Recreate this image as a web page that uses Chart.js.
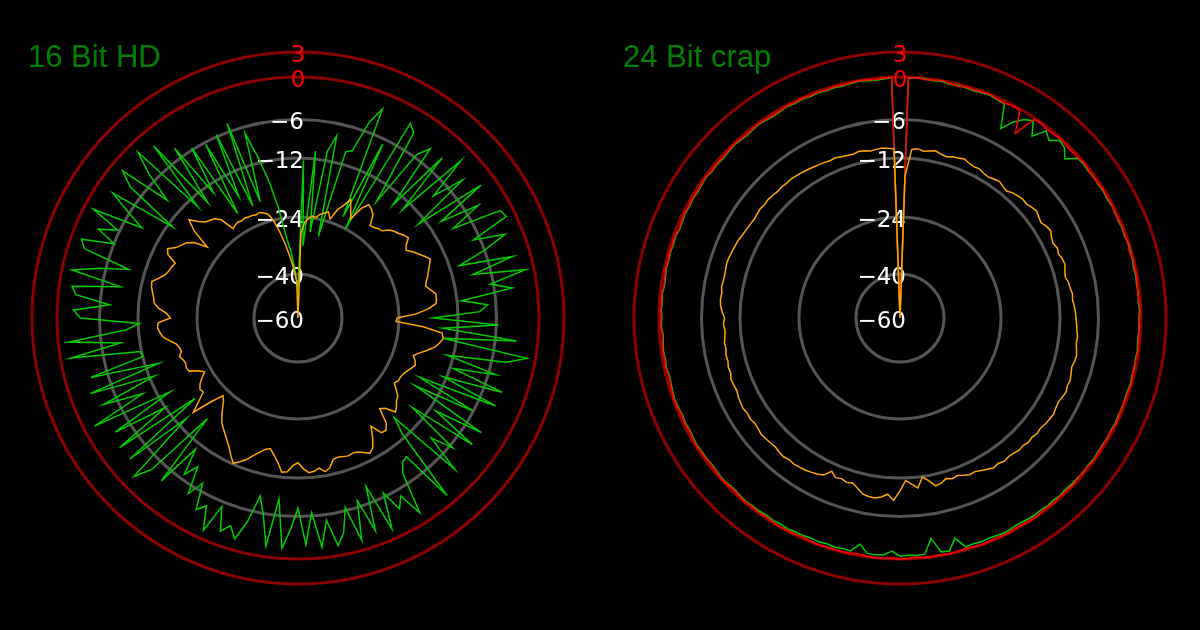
<!DOCTYPE html>
<html><head><meta charset="utf-8">
<script src="https://cdn.jsdelivr.net/npm/chart.js@4/dist/chart.umd.min.js"></script>
<style>
html,body{margin:0;padding:0;background:#000;width:1200px;height:630px;overflow:hidden}
canvas{position:absolute;top:0}
#c1{left:0}
#c2{left:600px}
</style></head><body>
<canvas id="c1" width="600" height="630"></canvas>
<canvas id="c2" width="600" height="630"></canvas>
<script>
// ---- Scale: ring levels (dB) and their labels ----
const tickLevelsDb = [-60, -40, -24, -12, -6, 0, 3];
const tickLabels = ['−60', '−40', '−24', '−12', '−6', '0', '3'];
// angle categories (degrees, clockwise from top)
const angleLabels = Array.from({length: 180}, (_, i) => (i * 2) + '°');

// ---- Series (dB) ----
const hd16Green = [
-47,-12.5,-32,-10.8,-28,-10.5,-7.9,-28.7,-10,-9.5,
-4.6,-2.2,-22,-6.8,-24,-2.3,-3.2,-16,-5.5,-3.7,
-14.5,-3.6,-13.9,-2.1,-8.5,-3.7,-13.5,-2.1,-10,-4,
-9,-1.7,-1.3,-7,-2.5,-6,-10.5,-2.5,-8.8,-1.2,
-6.5,-3.5,-11.3,-7.3,-8.6,-17,-5.7,-15,-3,-14.8,
-1.2,-4,-13.3,-5,-11.5,-3.4,-12.7,-3.5,-17,-6,
-17,-3.5,-11,-3.6,-15,-5.5,-9,-3.3,-16.3,-12.8,
-1.3,-9.5,-9.2,-7.7,-1.6,-5,-3.5,-6.6,-1.4,-8.6,
-2.1,-7,-1.4,-6.5,-3,-1.4,-5.2,-1.5,-6.5,-2,
-7.3,-4.2,-1.4,-8.6,-1.5,-5.8,-8.6,-4.3,-1.6,-3.2,
-2,-5.3,-1.2,-4.5,-3.4,-7.2,-4.8,-9,-6.8,-11,
-4,-17,-4.3,-1.8,-14,-3,-18,-2.9,-12,-3.6,
-14.5,-1.5,-10,-4,-13,-2.8,-14.7,-3.6,-12,-11.8,
-1.5,-9,-1.5,-10,-12.3,-3.3,-2.3,-7.5,-2.5,-1.8,
-8.8,-1.4,-5,-9.5,-2.3,-1.5,-6,-3.2,-5.7,-1.3,
-8.8,-5.7,-2.5,-13,-4,-1.7,-9.5,-4.8,-1.5,-14,
-2.3,-14.7,-4.4,-13.8,-5.7,-20,-6.3,-17,-5.7,-20,
-4.8,-19.7,-7,-11.1,-16,-22,-30,-33.5,-38.5,-43.5
];
const hd16Orange = [
-60,-28.4,-25.4,-24.3,-23.6,-23.8,-23,-22.6,-22.1,-23.4,
-21.1,-19.9,-18.2,-20.1,-21.7,-18.8,-17.4,-17.8,-18.6,-20.7,
-20.5,-20.1,-19.9,-18.8,-18.2,-17.8,-17.2,-16.8,-18,-18.6,
-17.6,-16.8,-15.9,-15.1,-15.7,-16.3,-16.8,-17.4,-17.8,-17,
-16.1,-16.1,-16.3,-18,-20.5,-24.5,-24.8,-19,-15.1,-14.7,
-15.3,-16.1,-17.4,-18.8,-19.9,-19.2,-18.8,-19.4,-19.9,-20.3,
-20.5,-20.5,-20.9,-19.9,-18.8,-18.4,-17.6,-17,-19,-19.7,
-16.6,-15.5,-15.7,-18,-15.9,-14.1,-13.4,-14.1,-14.7,-14.9,
-14.7,-14.9,-15.1,-14.9,-13.4,-12.8,-13.7,-13.2,-13,-13.9,
-15.1,-14.5,-13.2,-13,-14.9,-16.3,-17.4,-17,-16.1,-15.1,
-13.9,-13,-12.2,-13.4,-14.7,-15.7,-16.6,-17.4,-18.2,-19.4,
-20.7,-21.9,-22.6,-20.1,-15.9,-18.2,-20.1,-19.9,-20.5,-21.5,
-22.6,-21.7,-19.9,-19.7,-19.9,-19.7,-19.2,-19.9,-19.7,-19.2,
-18,-16.8,-16.3,-15.9,-16.1,-18.6,-17.8,-16.1,-15.1,-14.9,
-14.5,-14.1,-13.9,-15.1,-16.1,-16.6,-16.8,-17.2,-15.1,-14.5,
-15.9,-16.6,-17.2,-18.4,-21.1,-17,-14.7,-16.3,-17.4,-17.8,
-18.2,-19.2,-22.1,-21.7,-21.5,-21.7,-21.5,-21.7,-21.7,-21.9,
-21.7,-22.1,-22.6,-24.3,-27.6,-30.9,-34.2,-37,-39.7,-43.3
];
const crap24Orange = [
-60,-15.7,-10.6,-10.4,-10.7,-10.5,-10.3,-10.6,-10.8,-10.5,
-10.4,-10.2,-10.5,-10.7,-10.6,-10.9,-11,-10.8,-10.6,-10.9,
-11.1,-10.7,-10.5,-10.3,-10.4,-10.1,-9.9,-10.2,-10.4,-10,
-9.8,-10.2,-10.4,-10.1,-10.3,-10,-9.9,-10.2,-10.4,-10.1,
-10,-9.8,-9.9,-9.7,-9.6,-9.5,-9.4,-9.3,-9.1,-9.2,
-9,-8.8,-8.9,-9.1,-8.9,-8.7,-8.8,-8.6,-8.8,-9,
-8.9,-8.7,-8.8,-8.9,-9.1,-9,-9.2,-9.1,-9.3,-9.2,
-9.4,-9.5,-9.3,-9.6,-9.4,-9.7,-10,-10.3,-10.2,-10.5,
-10.8,-10.6,-10.9,-10.4,-10.2,-11.2,-11.9,-10.3,-11,-11.6,
-10,-8.5,-9.4,-8.9,-8.6,-8.7,-8.9,-9.6,-10.2,-10,
-10.3,-10.1,-10.8,-9.7,-9.4,-9.2,-9,-8.9,-8.8,-8.9,
-8.7,-8.8,-9,-8.9,-8.8,-8.7,-8.9,-9,-8.8,-8.9,
-8.7,-8.8,-8.9,-9.1,-9,-8.9,-9.2,-9.1,-9.3,-9.2,
-9.4,-9.3,-9.5,-9.6,-9.4,-9.6,-9.2,-8.9,-8.8,-8.9,
-8.7,-8.8,-8.8,-8.7,-8.6,-8.7,-8.8,-8.9,-9,-9.2,
-9.3,-9.4,-9.5,-9.4,-9.3,-9.4,-9.3,-9.4,-9.5,-9.4,
-9.5,-9.4,-9.5,-9.6,-9.7,-9.8,-9.9,-10,-10.1,-10,
-10.2,-10.3,-10.4,-10.2,-10.3,-10.5,-10.4,-10.3,-10.4,-10.6
];
const crap24Red = [
-60,-0.1,0,-0.2,-0.1,0,-0.2,-0.3,-0.1,-0.2,
-0.1,0,-0.2,-0.3,-0.1,-0.2,-3.3,-0.2,-0.1,-0.3,
-0.2,-0.1,-0.2,-0.3,-0.2,-0.1,-0.2,-0.3,-0.2,-0.1,
-0.2,-0.1,-0.3,-0.2,-0.1,-0.2,-0.2,-0.3,-0.1,-0.2,
-0.1,-0.2,-0.3,-0.2,-0.1,-0.2,-0.3,-0.2,-0.2,-0.1,
-0.2,-0.3,-0.2,-0.1,-0.2,-0.2,-0.3,-0.2,-0.1,-0.2,
-0.3,-0.2,-0.2,-0.1,-0.2,-0.3,-0.2,-0.1,-0.2,-0.2,
-0.1,-0.2,-0.1,0,-0.1,-0.2,-0.1,0,-0.1,-0.1,
0,-0.1,-0.2,-0.1,0,-0.1,-0.1,0,-0.2,-0.1,
0,-0.1,-0.1,0,-0.1,-0.2,-0.1,0,-0.1,-0.1,
0,-0.1,-0.2,-0.1,-0.1,0,-0.1,-0.2,-0.1,-0.2,
-0.1,-0.2,-0.3,-0.2,-0.1,-0.2,-0.3,-0.2,-0.2,-0.1,
-0.2,-0.3,-0.2,-0.3,-0.2,-0.1,-0.2,-0.3,-0.4,-0.2,
-0.3,-0.2,-0.3,-0.4,-0.2,-0.3,-0.2,-0.3,-0.2,-0.4,
-0.3,-0.2,-0.3,-0.2,-0.3,-0.2,-0.4,-0.3,-0.2,-0.3,
-0.2,-0.3,-0.2,-0.1,-0.3,-0.2,-0.3,-0.2,-0.1,-0.2,
-0.3,-0.2,-0.1,-0.2,-0.3,-0.2,-0.1,-0.2,-0.1,-0.2,
-0.1,-0.2,-0.1,-0.2,-0.1,0,-0.1,-0.2,-0.1,0
];
const crap24Green = [
-60,-0.2,0,-0.1,-0.2,-0.1,-0.3,-0.2,-0.2,-0.3,
-0.2,-0.1,-0.3,-0.4,-3.7,-2.1,-1.0,-0.4,-2.3,-0.5,
-1.3,-0.3,-0.6,-1.7,-0.3,-0.2,-0.3,-0.2,-0.3,-0.2,
-0.3,-0.2,-0.2,-0.3,-0.2,-0.3,-0.1,-0.2,-0.2,-0.3,
-0.2,-0.3,-0.2,-0.3,-0.2,-0.3,-0.2,-0.3,-0.3,-0.2,
-0.3,-0.2,-0.3,-0.2,-0.3,-0.3,-0.2,-0.3,-0.2,-0.3,
-0.2,-0.3,-0.3,-0.2,-0.3,-0.2,-0.3,-0.3,-0.4,-0.3,
-0.4,-0.3,-0.4,-0.3,-0.4,-0.5,-0.4,-0.3,-0.4,-0.5,
-0.4,-0.5,-0.4,-2.0,-0.4,-0.5,-2.6,-0.5,-0.4,-0.5,
-0.4,-1.1,-0.5,-0.4,-0.5,-1.6,-0.4,-0.5,-0.4,-0.5,
-0.4,-0.5,-0.4,-0.4,-0.3,-0.4,-0.3,-0.4,-0.3,-0.3,
-0.2,-0.3,-0.4,-0.3,-0.2,-0.3,-0.4,-0.3,-0.3,-0.2,
-0.3,-0.4,-0.3,-0.4,-0.3,-0.2,-0.3,-0.4,-0.5,-0.3,
-0.4,-0.3,-0.4,-0.5,-0.3,-0.4,-0.3,-0.4,-0.3,-0.5,
-0.4,-0.3,-0.4,-0.3,-0.4,-0.3,-0.5,-0.4,-0.3,-0.4,
-0.3,-0.4,-0.3,-0.2,-0.4,-0.3,-0.4,-0.3,-0.2,-0.3,
-0.4,-0.3,-0.2,-0.3,-0.4,-0.3,-0.2,-0.3,-0.2,-0.3,
-0.2,-0.3,-0.2,-0.3,-0.2,-0.1,-0.2,-0.3,-0.2,-0.1
];

// ---- scale transform config: where each ring sits (fraction of outer ring radius) ----
const scaleConfig = {
  ringFractions: [0, 0.1654, 0.3797, 0.6015, 0.7462, 0.906, 1],
  ringColors: ['rgba(0,0,0,0)', '#555555', '#555555', '#555555', '#555555', '#8c0000', '#8c0000']
};

function dbToScale(db) {
  const L = tickLevelsDb, F = scaleConfig.ringFractions;
  if (db <= L[0]) return F[0];
  for (let k = 1; k < L.length; k++) {
    if (db <= L[k]) return F[k - 1] + (db - L[k - 1]) / (L[k] - L[k - 1]) * (F[k] - F[k - 1]);
  }
  return F[F.length - 1];
}

const measureCtx = document.createElement('canvas').getContext('2d');
function padLabel(text) {
  measureCtx.font = '23px "DejaVu Sans"';
  const w = measureCtx.measureText(text).width;
  const s = measureCtx.measureText(' ').width;
  const n = Math.max(0, Math.round((w - 14) / s));
  // empty first line nudges the label a few px below its ring
  return ['', text + ' '.repeat(n)];
}

function radialScale(backdropPad) {
  return {
    min: -0.0001,
    max: 1,
    afterBuildTicks: (s) => { s.ticks = scaleConfig.ringFractions.map(v => ({value: v})); },
    angleLines: {display: false},
    pointLabels: {display: false},
    grid: {circular: true, lineWidth: 3, color: (c) => scaleConfig.ringColors[c.index]},
    border: {display: false},
    ticks: {
      display: true,
      font: {family: 'DejaVu Sans', size: 23, lineHeight: '4px'},
      color: (c) => c.index >= 5 ? '#ff0000' : '#ffffff',
      showLabelBackdrop: false,
      backdropPadding: backdropPad,
      callback: (v, i) => padLabel(tickLabels[i])
    }
  };
}

function lineDs(values, color) {
  return {
    data: values.map(dbToScale),
    borderColor: color,
    borderWidth: 1.5,
    pointRadius: 0,
    fill: false,
    tension: 0
  };
}

function makeChart(id, title, datasets, layoutPad, titlePad, backdropPad) {
  return new Chart(document.getElementById(id), {
    type: 'radar',
    data: {labels: angleLabels, datasets: datasets},
    options: {
      responsive: false,
      animation: false,
      devicePixelRatio: 1,
      layout: {padding: layoutPad},
      plugins: {
        legend: {display: false},
        tooltip: {enabled: false},
        title: {
          display: true,
          text: title,
          align: 'start',
          color: '#008000',
          font: {family: 'Liberation Sans', size: 31, weight: 'normal', lineHeight: '36px'},
          padding: titlePad
        }
      },
      scales: {r: radialScale(backdropPad)}
    }
  });
}

makeChart('c1', '16 Bit HD',
  [lineDs(hd16Orange, '#ffa500'), lineDs(hd16Green, '#00cc00')],
  {left: 28, right: 31, top: 0, bottom: 41},
  {top: 40, bottom: -28},
  -7.5);

makeChart('c2', '24 Bit crap',
  [lineDs(crap24Orange, '#ffa500'), lineDs(crap24Red, '#ff0000'), lineDs(crap24Green, '#00cc00')],
  {left: 23, right: 22, top: 0, bottom: 34},
  {top: 40, bottom: -35},
  0);
</script>
</body></html>
